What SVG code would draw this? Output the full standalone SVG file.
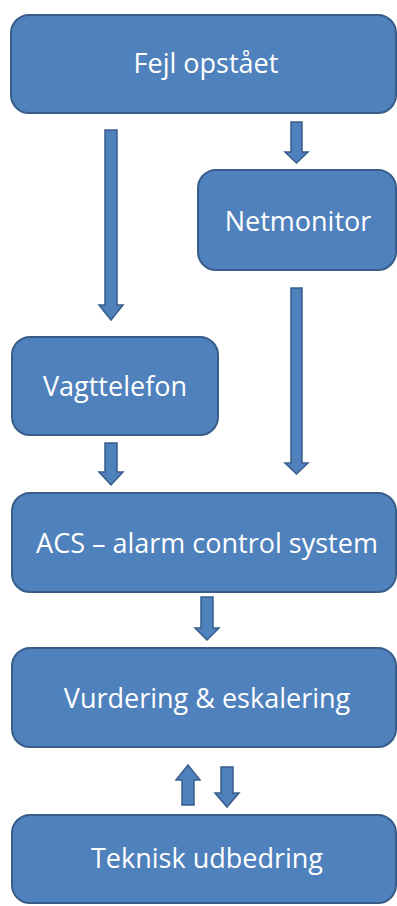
<svg xmlns="http://www.w3.org/2000/svg" width="397" height="906" viewBox="0 0 397 906">
<style>
.box{fill:#4F81BD;stroke:#385D8A;stroke-width:2}
.lbl{fill:#FFFFFF;font-family:"Open Sans","Liberation Sans",sans-serif;font-size:27px;text-anchor:middle}
.arr{fill:#4F81BD;stroke:#385D8A;stroke-width:1.5}
</style>
<rect width="397" height="906" fill="#FFFFFF"/>
<g id="connectors">
<path class="arr" d="M105,130 H117 V305 H123 L111,320 L99,305 H105 Z"/>
<path class="arr" d="M291,122 H302 V152 H308 L296.5,163 L285,152 H291 Z"/>
<path class="arr" d="M291,288 H302 V463 H308 L296.5,474 L285,463 H291 Z"/>
<path class="arr" d="M105,443 H117 V472 H123 L111,485 L99,472 H105 Z"/>
<path class="arr" d="M201,597 H213 V628 H219 L207,640 L195,628 H201 Z"/>
<path class="arr" d="M182,805 H194 V780 H200 L188,765 L176,780 H182 Z"/>
<path class="arr" d="M221,767 H233 V793 H239 L227,807 L215,793 H221 Z"/>
</g>
<g id="fejl"><rect class="box" x="11" y="15" width="385" height="98" rx="18"/><text class="lbl" x="206" y="73">Fejl opstået</text></g>
<g id="netmonitor"><rect class="box" x="198" y="170" width="198" height="100" rx="18"/><text class="lbl" x="298" y="231">Netmonitor</text></g>
<g id="vagttelefon"><rect class="box" x="12" y="337" width="206" height="98" rx="18"/><text class="lbl" x="115" y="396">Vagttelefon</text></g>
<g id="acs"><rect class="box" x="12" y="493" width="384" height="99" rx="18"/><text class="lbl" x="207" y="553">ACS – alarm control system</text></g>
<g id="vurdering"><rect class="box" x="12" y="648" width="384" height="99" rx="18"/><text class="lbl" x="207" y="708">Vurdering &amp; eskalering</text></g>
<g id="teknisk"><rect class="box" x="12" y="815" width="384" height="88" rx="18"/><text class="lbl" x="207" y="868">Teknisk udbedring</text></g>
</svg>
